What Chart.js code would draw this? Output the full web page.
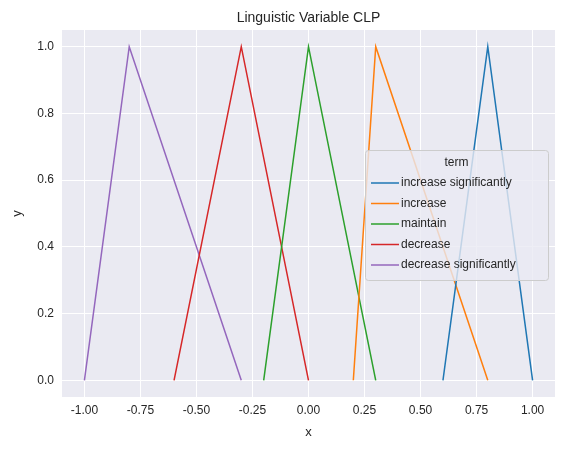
<!DOCTYPE html>
<html><head>
<script src="https://cdn.jsdelivr.net/npm/chart.js@4"></script>
<style>body{margin:0;background:#fff}#c{display:block}</style>
</head><body>
<canvas id="c" width="564" height="453"></canvas>
<script>
// terms and their triangle vertices (x, y)
const terms = ['increase significantly', 'increase', 'maintain', 'decrease', 'decrease significantly'];
const colors = ['#1f77b4', '#ff7f0e', '#2ca02c', '#d62728', '#9467bd'];
const xs = [
  [0.6, 0.8, 1.0],
  [0.2, 0.3, 0.8],
  [-0.2, 0.0, 0.3],
  [-0.6, -0.3, 0.0],
  [-1.0, -0.8, -0.3]
];
const ys = [0, 1, 0];
const xTicks = [-1, -0.75, -0.5, -0.25, 0, 0.25, 0.5, 0.75, 1];
const yTicks = [0, 0.2, 0.4, 0.6, 0.8, 1.0];

const font = 'Liberation Sans, Arial, sans-serif';
Chart.defaults.font.family = font;
Chart.defaults.color = '#262626';

const bgPlugin = {
  id: 'bg',
  beforeDraw(chart) {
    const {ctx, chartArea: a} = chart;
    ctx.save();
    ctx.fillStyle = '#eaeaf2';
    ctx.fillRect(a.left, a.top, a.right - a.left, a.bottom - a.top);
    ctx.restore();
  },
  afterDraw(chart) {
    const {ctx, chartArea: a} = chart;
    ctx.save();
    ctx.fillStyle = '#262626';
    ctx.font = '14px ' + font;
    ctx.textAlign = 'center';
    ctx.textBaseline = 'alphabetic';
    ctx.fillText('Linguistic Variable CLP', (a.left + a.right) / 2, 22);
    // legend box
    const x0 = 365, y0 = 150, w = 183, h = 130;
    ctx.fillStyle = 'rgba(234,234,242,0.8)';
    ctx.strokeStyle = '#cccccc';
    ctx.lineWidth = 1;
    ctx.beginPath();
    ctx.roundRect(x0 + 0.5, y0 + 0.5, w, h, 3);
    ctx.fill(); ctx.stroke();
    ctx.font = '12px ' + font;
    ctx.fillStyle = '#262626';
    ctx.textBaseline = 'middle';
    ctx.fillText('term', x0 + w / 2, y0 + 13);
    ctx.textAlign = 'left';
    terms.forEach((t, i) => {
      const yy = y0 + 33 + i * 20.5;
      ctx.strokeStyle = colors[i];
      ctx.lineWidth = 1.5;
      ctx.beginPath();
      ctx.moveTo(x0 + 6, yy); ctx.lineTo(x0 + 34, yy); ctx.stroke();
      ctx.fillText(t, x0 + 16 + 20, yy);
    });
    ctx.restore();
  }
};

new Chart(document.getElementById('c'), {
  type: 'scatter',
  data: {
    datasets: terms.map((t, i) => ({
      label: t,
      data: xs[i].map((x, j) => ({x: x, y: ys[j]})),
      showLine: true,
      borderColor: colors[i],
      backgroundColor: colors[i],
      borderWidth: 1.5,
      pointRadius: 0
    }))
  },
  options: {
    responsive: false,
    animation: false,
    layout: {padding: {top: 30, right: 9, left: 8, bottom: 36}},
    plugins: {legend: {display: false}, tooltip: {enabled: false}},
    scales: {
      x: {
        type: 'linear', min: -1.1, max: 1.1,
        afterBuildTicks: s => { s.ticks = xTicks.map(v => ({value: v})); },
        afterFit: s => { s.height = 20; },
        ticks: {callback: v => v.toFixed(2), font: {size: 12}, padding: 6, maxRotation: 0},
        grid: {color: '#ffffff', lineWidth: 1, drawTicks: false},
        border: {display: false},
        title: {display: false}
      },
      y: {
        type: 'linear', min: -0.05, max: 1.05,
        afterBuildTicks: s => { s.ticks = yTicks.map(v => ({value: v})); },
        afterFit: s => { s.width = 54; },
        ticks: {callback: v => v.toFixed(1), font: {size: 12}, padding: 8},
        grid: {color: '#ffffff', lineWidth: 1, drawTicks: false},
        border: {display: false},
        title: {display: true, text: 'y', font: {size: 13}, padding: 2}
      }
    }
  },
  plugins: [bgPlugin, {
    id: 'xlabel',
    afterDraw(chart) {
      const {ctx, chartArea: a} = chart;
      ctx.save();
      ctx.fillStyle = '#262626';
      ctx.font = '13px ' + font;
      ctx.textAlign = 'center';
      ctx.textBaseline = 'middle';
      ctx.fillText('x', (a.left + a.right) / 2, 432);
      ctx.restore();
    }
  }]
});
</script>
</body></html>
